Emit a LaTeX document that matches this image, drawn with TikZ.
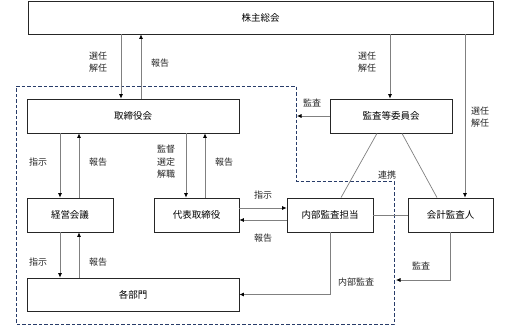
\documentclass[tikz,border=0pt]{standalone}
\usepackage{fontspec}
\newfontfamily\jpfont{Noto Sans CJK JP}
\usetikzlibrary{arrows.meta}
\definecolor{dashblue}{RGB}{40,60,105}
\tikzset{
  box/.style={draw=black!85, line width=0.8pt, fill=white, inner sep=0pt, minimum height=34pt},
  arr/.style={draw=black!50, line width=0.7pt, -{Latex[length=4.5pt,width=4pt,color=black]}},
  conn/.style={draw=black!50, line width=0.7pt},
  lbl/.style={font=\jpfont\fontsize{9}{12.5}\selectfont, align=center, text=black!85, inner sep=0pt}
}
\begin{document}
\begin{tikzpicture}[x=1pt, y=-1pt, font=\jpfont\fontsize{9.5}{12}\selectfont]
  \useasboundingbox (0,0) rectangle (523,327);

  % dashed area
  \draw[dashblue, line width=0.9pt, dash pattern=on 3.5pt off 2pt]
    (16,86) -- (296,86) -- (296,181) -- (394,181) -- (394,324) -- (16,324) -- cycle;

  % boxes
  \node[box, minimum width=465pt, minimum height=33pt] (soukai) at (260.5,17.5) {株主総会};
  \node[box, minimum width=212pt] (tori) at (133,116) {取締役会};
  \node[box, minimum width=122pt] (kansa) at (391,116) {監査等委員会};
  \node[box, minimum width=86pt] (keiei) at (70,215) {経営会議};
  \node[box, minimum width=85pt] (daihyo) at (196.5,215) {代表取締役};
  \node[box, minimum width=86pt] (naibu) at (330,215) {内部監査担当};
  \node[box, minimum width=85pt] (kaikei) at (450.5,215) {会計監査人};
  \node[box, minimum width=212pt, minimum height=33pt] (bumon) at (133,294.5) {各部門};

  \coordinate (kansaend) at (297,116);
  \coordinate (kaikeiend) at (396,280);

  % connectors
  \draw[arr] ([xshift=-139.5pt]soukai.south) -- ([xshift=-12pt]tori.north);
  \draw[arr] ([xshift=8pt]tori.north) -- ([xshift=-119.5pt]soukai.south);
  \draw[arr] ([xshift=129.5pt]soukai.south) -- ([xshift=-1pt]kansa.north);
  \draw[arr] ([xshift=204.5pt]soukai.south) -- ([xshift=14.5pt]kaikei.north);
  \draw[arr] (kansa.west) -- (kansaend);

  \draw[arr] ([xshift=-73pt]tori.south) -- ([xshift=-10pt]keiei.north);
  \draw[arr] ([xshift=9pt]keiei.north) -- ([xshift=-54pt]tori.south);
  \draw[arr] ([xshift=53pt]tori.south) -- ([xshift=-10.5pt]daihyo.north);
  \draw[arr] ([xshift=8.5pt]daihyo.north) -- ([xshift=72pt]tori.south);

  \draw[arr] ([xshift=-10pt]keiei.south) -- ([xshift=-73pt]bumon.north);
  \draw[arr] ([xshift=-54pt]bumon.north) -- ([xshift=9pt]keiei.south);

  \draw[arr] ([yshift=7pt]daihyo.east) -- ([yshift=7pt]naibu.west);
  \draw[arr] ([yshift=-5pt]naibu.west) -- ([yshift=-5pt]daihyo.east);
  \draw[arr] (naibu.south) |- (bumon.east);
  \draw[arr] (kaikei.south) |- (kaikeiend);

  \draw[conn] (naibu.east) -- (kaikei.west);
  \draw[conn] ([xshift=-14pt]kansa.south) -- ([xshift=11pt]naibu.north);
  \draw[conn] ([xshift=11pt]kansa.south) -- ([xshift=-13.5pt]kaikei.north);

  % labels
  \node[lbl] (l1) at (98,62) {選任\\解任};
  \node[lbl] (l2) at (160,63) {報告};
  \node[lbl] (l3) at (367,62) {選任\\解任};
  \node[lbl] (l4) at (480,117) {選任\\解任};
  \node[lbl] (l5) at (312,103) {監査};
  \node[lbl] (l6) at (38,162) {指示};
  \node[lbl] (l7) at (98,162) {報告};
  \node[lbl] (l8) at (166,162) {監督\\選定\\解職};
  \node[lbl] (l9) at (224,162) {報告};
  \node[lbl] (l10) at (38,262) {指示};
  \node[lbl] (l11) at (98,262) {報告};
  \node[lbl] (l12) at (263,195) {指示};
  \node[lbl] (l13) at (263,238) {報告};
  \node[lbl] (l14) at (356,282) {内部監査};
  \node[lbl] (l15) at (421,266) {監査};
  \node[lbl] (l16) at (387,175) {連携};
\end{tikzpicture}
\end{document}
